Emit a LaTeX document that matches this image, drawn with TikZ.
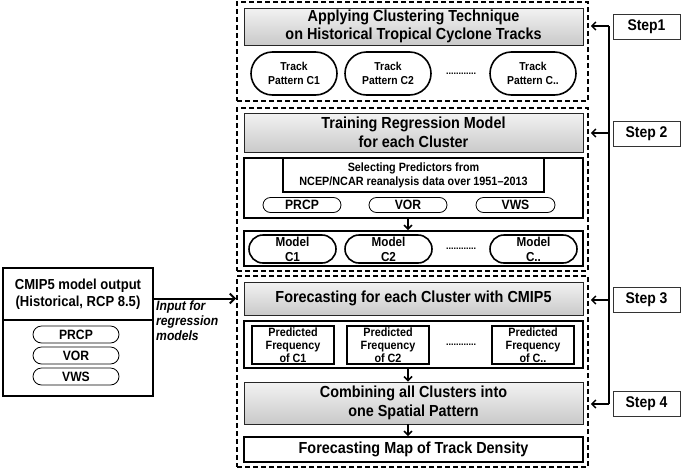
\documentclass[tikz,border=0pt]{standalone}
\usepackage{fontspec}
\setmainfont{Liberation Sans}[FakeStretch=0.9]
\usetikzlibrary{arrows.meta,shapes.misc}
\tikzset{
  x=1pt, y=-1pt,
  dbox/.style={draw, line width=1.6pt, dash pattern=on 5pt off 3pt, inner sep=0pt},
  gbox/.style={draw=gray!30!black, line width=0.9pt, top color=gray!10, bottom color=gray!42,
     align=center, inner sep=0pt, minimum width=339pt, font=\fontsize{16}{18.5}\selectfont\bfseries},
  wbox/.style={draw, line width=1.8pt, inner sep=0pt, fill=white, minimum width=339pt},
  oval/.style={draw, line width=1.6pt, rounded rectangle, inner sep=0pt, align=center},
  pill/.style={draw, line width=0.8pt, rounded rectangle, inner sep=0pt, minimum height=15pt,
     font=\fontsize{13.5}{15}\selectfont\bfseries},
  prect/.style={draw, line width=1.8pt, inner sep=0pt, align=center, minimum width=82pt, minimum height=38pt,
     font=\fontsize{12}{12.8}\selectfont\bfseries},
  stepbox/.style={draw=gray!40!black, line width=0.8pt, inner sep=0pt, minimum width=67pt, minimum height=25pt,
     font=\fontsize{15.5}{17}\selectfont\bfseries},
  dots/.style={inner sep=0pt, font=\fontsize{10}{12}\selectfont\bfseries},
  arr/.style={line width=1.5pt, -{Straight Barb[length=4pt,width=8pt]}},
  sline/.style={line width=1.5pt},
}
\begin{document}
\begin{tikzpicture}
\useasboundingbox (0,0) rectangle (685,469);
% dashed step frames
\node[dbox, minimum width=351pt, minimum height=99pt] (d1) at (412.5,51.5) {};
\node[dbox, minimum width=351pt, minimum height=163pt] (d2) at (412.5,189.5) {};
\node[dbox, minimum width=351pt, minimum height=191pt] (d3) at (412.5,371.5) {};

% Step 1
\node[gbox, minimum height=37pt] (g1) at (413.5,26.5) {Applying Clustering Technique\\on Historical Tropical Cyclone Tracks};
\tikzset{tp/.style={oval, minimum width=86pt, minimum height=43pt, font=\fontsize{11.5}{13.8}\selectfont\bfseries}}
\node[tp] (t1) at (294,73.5) {Track\\Pattern C1};
\node[tp] (t2) at (388,73.5) {Track\\Pattern C2};
\node[dots] (td) at (461,73.5) {............};
\node[tp] (t3) at (533,73.5) {Track\\Pattern C..};

% Step 2
\node[gbox, minimum height=39pt] (g2) at (413.5,132.5) {Training Regression Model\\for each Cluster};
\node[wbox, minimum height=60pt] (sel) at (413.5,188) {};
\node[draw, line width=1.8pt, inner sep=0pt, minimum width=261pt, minimum height=34pt, align=center,
      font=\fontsize{12}{14}\selectfont\bfseries] (selin) at (413.5,175) {Selecting Predictors from\\NCEP/NCAR reanalysis data over 1951--2013};
\node[pill, minimum width=78pt] (p1) at (302,205) {PRCP};
\node[pill, minimum width=78pt] (p2) at (408,205) {VOR};
\node[pill, minimum width=79pt] (p3) at (515.5,205) {VWS};
\node[wbox, minimum height=35pt] (mb) at (413.5,248.5) {};
\tikzset{md/.style={oval, minimum width=87pt, minimum height=28pt, font=\fontsize{13}{15}\selectfont\bfseries}}
\node[md] (m1) at (292.5,249) {Model\\C1};
\node[md] (m2) at (388.5,249) {Model\\C2};
\node[dots] (mdots) at (461,249) {............};
\node[md] (m3) at (533.5,249) {Model\\C..};
\draw[arr] (sel.south -| p2) -- (mb.north -| p2);

% Step 3 and 4
\node[gbox, minimum height=33pt] (g3) at (413.5,298.5) {Forecasting for each Cluster with CMIP5};
\node[wbox, minimum height=47pt] (pb) at (413.5,344.5) {};
\node[prect] (f1) at (293,345) {Predicted\\Frequency\\of C1};
\node[prect] (f2) at (388,345) {Predicted\\Frequency\\of C2};
\node[dots] (fdots) at (461,345) {............};
\node[prect] (f3) at (533,345) {Predicted\\Frequency\\of C..};
\node[gbox, minimum height=42pt] (g4) at (413.5,403) {Combining all Clusters into\\one Spatial Pattern};
\node[wbox, minimum height=25pt, font=\fontsize{16}{18}\selectfont\bfseries] (fin) at (413.5,449.5) {Forecasting Map of Track Density};
\draw[arr] (pb.south -| p2) -- (g4.north -| p2);
\draw[arr] (g4.south -| p2) -- (fin.north -| p2);

% CMIP5 input box
\node[draw, line width=1.8pt, inner sep=0pt, minimum width=150pt, minimum height=52pt, align=center,
      font=\fontsize{14.5}{17}\selectfont\bfseries] (cm) at (78,294) {CMIP5 model output\\(Historical, RCP 8.5)};
\node[draw, line width=1.8pt, inner sep=0pt, minimum width=150pt, minimum height=76pt] (cmv) at (78,358) {};
\node[pill, minimum width=86pt, minimum height=17pt] (c1) at (76,334.5) {PRCP};
\node[pill, minimum width=86pt, minimum height=17pt] (c2) at (76,355.5) {VOR};
\node[pill, minimum width=86pt, minimum height=17pt] (c3) at (76,376.5) {VWS};
\draw[line width=2pt, -{Straight Barb[length=5pt,width=10pt]}] (cm.east |- g3.west) -- (d3.west |- g3.west);
\node[anchor=north west, inner sep=0pt, align=left, font=\fontsize{13.5}{15}\selectfont\bfseries\itshape] (inp) at (156,301) {Input for\\regression\\models};

% Step labels
\node[stepbox] (s1) at (646.5,26.5) {Step1};
\node[stepbox] (s2) at (646.5,133.5) {Step 2};
\node[stepbox] (s3) at (646.5,300) {Step 3};
\node[stepbox] (s4) at (646.5,404) {Step 4};
\coordinate (k1) at (609,26);
\coordinate (k2) at (609,133);
\coordinate (k3) at (609,300);
\coordinate (k4) at (609,404);
\draw[sline] (k1) -- (k4);
\foreach \k in {k1,k2,k3,k4} \draw[arr] (\k) -- ([xshift=2pt]d1.east |- \k);
\end{tikzpicture}
\end{document}
